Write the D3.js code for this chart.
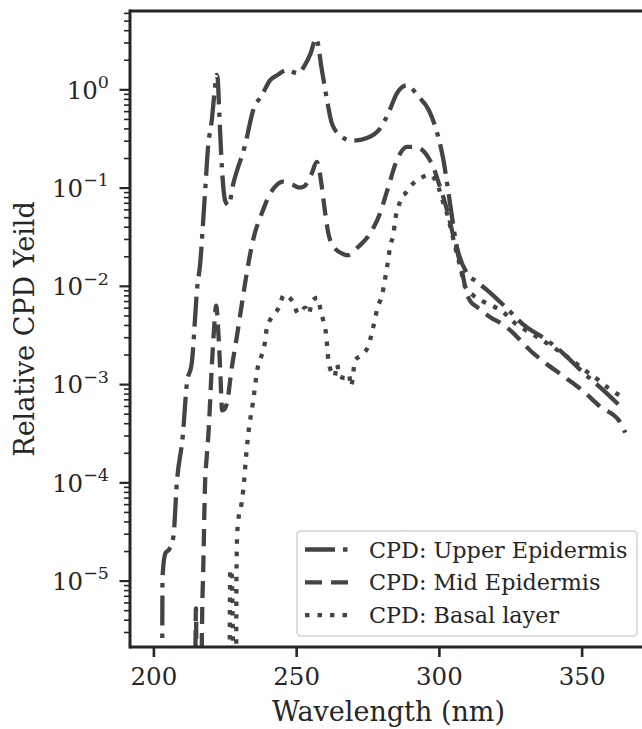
<!DOCTYPE html>
<html>
<head>
<meta charset="utf-8">
<script src="https://cdn.jsdelivr.net/npm/d3@7"></script>
<style>
  body { margin: 0; background: #fff; }
  svg { display: block; font-family: "DejaVu Serif", serif; }
</style>
</head>
<body>
<svg id="chart"></svg>
<script>
// values
const upperWl = [203.0, 203.2, 204.2, 205.6, 207.0, 208.2, 210.3, 211.7, 213.5, 215.4, 216.4, 217.3, 218.2, 219.1, 220.5, 221.5, 222.1, 222.5, 223.1, 224.0, 225.1, 226.3, 228.0, 232.1, 235.0, 238.0, 240.9, 243.5, 246.7, 250.8, 253.0, 255.0, 257.0, 259.0, 260.8, 262.5, 265.4, 269.5, 274.8, 279.4, 282.3, 285.3, 288.8, 292.9, 296.4, 298.7, 301.6, 303.4, 306.3, 309.8, 313.3, 316.8, 323.8, 329.7, 337.8, 344.0, 350.7, 357.0, 364.5];
const upperCpd = [1e-7, 1.1e-5, 1.9e-5, 2.1e-5, 2.8e-5, 9.8e-5, 3.0e-4, 1.0e-3, 1.7e-3, 1.0e-2, 1.7e-2, 4.0e-2, 0.10, 0.25, 0.50, 1.0, 1.4, 1.3, 0.55, 0.16, 0.074, 0.066, 0.11, 0.27, 0.62, 0.87, 1.24, 1.4, 1.57, 1.45, 1.75, 2.3, 3.3, 1.58, 0.78, 0.45, 0.34, 0.30, 0.32, 0.40, 0.57, 0.91, 1.1, 0.84, 0.62, 0.42, 0.19, 0.087, 0.025, 0.0135, 0.011, 0.0091, 0.0059, 0.0040, 0.0028, 0.0020, 0.0013, 0.0009, 0.00056];

const midWl = [214.5, 214.9, 215.3, 216.6, 217.0, 217.5, 218.1, 218.6, 219.3, 220.5, 221.2, 222.0, 222.6, 223.4, 224.1, 225.0, 225.7, 227.5, 229.2, 231.0, 232.7, 235.0, 238.0, 240.9, 243.0, 245.5, 247.5, 249.0, 251.0, 252.6, 255.5, 257.2, 259.0, 259.6, 261.3, 263.1, 266.6, 268.0, 271.8, 275.9, 279.4, 282.3, 285.3, 288.8, 291.0, 293.4, 296.4, 298.1, 300.0, 302.2, 305.1, 308.0, 309.8, 311.0, 313.0, 318.0, 322.6, 325.6, 329.0, 332.0, 336.6, 343.7, 350.1, 356.5, 363.5, 365.3];
const midCpd = [1e-7, 5.2e-6, 1e-7, 1e-7, 3e-6, 1.5e-5, 1.0e-4, 1.7e-4, 3.2e-4, 1.6e-3, 3.5e-3, 6.3e-3, 4.0e-3, 1.4e-3, 5.4e-4, 5.6e-4, 6.3e-4, 1.5e-3, 3.0e-3, 6.6e-3, 0.0135, 0.030, 0.055, 0.087, 0.105, 0.115, 0.110, 0.106, 0.100, 0.102, 0.14, 0.183, 0.102, 0.074, 0.034, 0.025, 0.021, 0.0205, 0.025, 0.034, 0.055, 0.102, 0.19, 0.26, 0.26, 0.25, 0.20, 0.16, 0.11, 0.069, 0.032, 0.0145, 0.0083, 0.0070, 0.0062, 0.0048, 0.0040, 0.0034, 0.0027, 0.0022, 0.0017, 0.0012, 0.00087, 0.00059, 0.00041, 0.00032];

const basalWl = [226.6, 226.9, 227.4, 228.6, 228.9, 229.1, 229.4, 230.2, 230.6, 231.8, 232.5, 233.4, 234.8, 236.6, 238.0, 239.1, 239.7, 241.5, 243.8, 245.8, 248.8, 250.8, 253.2, 254.3, 255.8, 257.5, 258.6, 259.6, 260.5, 261.3, 262.5, 263.5, 264.3, 265.2, 267.5, 268.5, 269.2, 270.7, 272.7, 275.3, 276.5, 277.7, 278.5, 280.0, 281.2, 282.3, 282.9, 284.1, 284.7, 285.8, 287.0, 288.2, 289.9, 293.4, 296.9, 298.7, 299.9, 301.6, 302.8, 304.6, 305.7, 307.5, 309.2, 312.0, 315.6, 319.1, 323.2, 326.1, 333.0, 340.7, 346.0, 352.4, 355.9, 359.4, 363.5];
const basalCpd = [1e-7, 1.3e-5, 1.2e-5, 1e-7, 1e-7, 1.2e-5, 3.2e-5, 5.0e-5, 5.5e-5, 1.05e-4, 1.9e-4, 3.4e-4, 6.3e-4, 1.5e-3, 2.0e-3, 2.7e-3, 3.7e-3, 4.8e-3, 5.9e-3, 8.1e-3, 6.9e-3, 5.2e-3, 6.0e-3, 5.2e-3, 7.1e-3, 7.6e-3, 5.6e-3, 4.3e-3, 3.2e-3, 1.75e-3, 1.3e-3, 1.2e-3, 1.6e-3, 1.2e-3, 1.15e-3, 1.25e-3, 9.5e-4, 1.75e-3, 1.95e-3, 2.45e-3, 3.3e-3, 4.7e-3, 6.0e-3, 7.9e-3, 1.2e-2, 1.9e-2, 2.5e-2, 3.4e-2, 4.7e-2, 6.3e-2, 8.1e-2, 8.7e-2, 0.102, 0.124, 0.135, 0.12, 0.10, 0.069, 0.055, 0.034, 0.025, 0.0155, 0.0098, 0.0080, 0.0069, 0.0062, 0.0052, 0.0043, 0.0032, 0.0023, 0.0018, 0.0013, 0.0011, 0.00091, 0.00076];

const seriesNames = ["CPD: Upper Epidermis", "CPD: Mid Epidermis", "CPD: Basal layer"];
const xTicks = [200, 250, 300, 350];
const yExponents = [0, -1, -2, -3, -4, -5];

const width = 642;
const height = 729;
const margin = { top: 11, right: -5, bottom: 82, left: 130 };
const ink = "#262626";
const lineColor = "#444444";
const tickFont = 24.5;

const series = [
  { name: seriesNames[0], wl: upperWl, v: upperCpd, dash: "30,8,4.5,8" },
  { name: seriesNames[1], wl: midWl, v: midCpd, dash: "17,9" },
  { name: seriesNames[2], wl: basalWl, v: basalCpd, dash: "4.5,8" }
];

const x = d3.scaleLinear()
  .domain([191.8, 372.9])
  .range([margin.left, width - margin.right]);

const y = d3.scaleLog()
  .domain([2.11e-6, 6.27])
  .range([height - margin.bottom, margin.top]);

const svg = d3.select("#chart")
  .attr("width", width)
  .attr("height", height);

svg.append("defs").append("clipPath").attr("id", "plot")
  .append("rect")
  .attr("x", margin.left).attr("y", margin.top)
  .attr("width", x.range()[1] - margin.left)
  .attr("height", y.range()[0] - margin.top);

const line = d3.line()
  .x((d) => x(d[0]))
  .y((d) => y(d[1]))
  .curve(d3.curveMonotoneX);

svg.append("g")
  .attr("clip-path", "url(#plot)")
  .selectAll("path")
  .data(series)
  .join("path")
  .attr("d", (s) => line(s.wl.map((w, i) => [w, s.v[i]])))
  .attr("fill", "none")
  .attr("stroke", lineColor)
  .attr("stroke-width", 4.3)
  .attr("stroke-dasharray", (s) => s.dash);

// minor ticks on the log axis
const minor = [];
for (let e = -6; e <= 0; e++) {
  for (let k = 2; k <= 9; k++) {
    const v = k * Math.pow(10, e);
    if (v >= y.domain()[0] && v <= y.domain()[1]) minor.push(v);
  }
}

svg.append("g")
  .attr("transform", `translate(${margin.left},0)`)
  .call(d3.axisLeft(y).tickValues(minor).tickSize(6).tickFormat(""))
  .call((g) => g.select(".domain").remove())
  .call((g) => g.selectAll("line").attr("stroke", ink).attr("stroke-width", 1.6));

const yAxis = svg.append("g")
  .attr("transform", `translate(${margin.left},0)`)
  .call(d3.axisLeft(y).tickValues(yExponents.map((e) => Math.pow(10, e))).tickSize(10.5).tickFormat(""))
  .attr("font-family", "DejaVu Serif");

yAxis.selectAll(".tick line").attr("stroke", ink).attr("stroke-width", 2.2);
yAxis.selectAll(".tick text").remove();
yAxis.selectAll(".tick")
  .append("text")
  .attr("x", -21)
  .attr("dy", "0.36em")
  .attr("text-anchor", "end")
  .attr("fill", ink)
  .attr("font-size", tickFont)
  .each(function (d) {
    const t = d3.select(this);
    const e = Math.round(Math.log10(d));
    t.append("tspan").text("10");
    t.append("tspan")
      .attr("dy", "-0.6em")
      .attr("font-size", 17.5)
      .text(e < 0 ? "\u2212" + Math.abs(e) : String(e));
  });
yAxis.select(".domain").remove();

const xAxis = svg.append("g")
  .attr("transform", `translate(0,${height - margin.bottom})`)
  .call(d3.axisBottom(x).tickValues(xTicks).tickSize(10).tickPadding(11))
  .attr("font-family", "DejaVu Serif");

xAxis.select(".domain").remove();
xAxis.selectAll(".tick line").attr("stroke", ink).attr("stroke-width", 2.6);
xAxis.selectAll(".tick text")
  .attr("fill", ink)
  .attr("font-size", tickFont);

// spines
const frame = svg.append("g").attr("fill", "none").attr("stroke", ink).attr("stroke-width", 3);
frame.append("line")
  .attr("x1", margin.left).attr("x2", x.range()[1])
  .attr("y1", margin.top).attr("y2", margin.top);
frame.append("line")
  .attr("x1", margin.left).attr("x2", x.range()[1])
  .attr("y1", y.range()[0]).attr("y2", y.range()[0]);
frame.append("line")
  .attr("x1", margin.left).attr("x2", margin.left)
  .attr("y1", margin.top - 1.5).attr("y2", y.range()[0] + 1.5);

svg.append("text")
  .attr("x", (margin.left + x.range()[1]) / 2)
  .attr("y", 721)
  .attr("text-anchor", "middle")
  .attr("fill", ink)
  .attr("font-size", 27)
  .text("Wavelength (nm)");

svg.append("text")
  .attr("transform", `translate(34,${(margin.top + y.range()[0]) / 2}) rotate(-90)`)
  .attr("text-anchor", "middle")
  .attr("fill", ink)
  .attr("font-size", 27)
  .text("Relative CPD Yeild");

// legend
const legend = svg.append("g").attr("transform", "translate(297,531)");
legend.append("rect")
  .attr("width", 340).attr("height", 105)
  .attr("rx", 4)
  .attr("fill", "#fff").attr("fill-opacity", 0.85)
  .attr("stroke", "#d4d4d4").attr("stroke-width", 1.6);

const rows = legend.selectAll(".row")
  .data(series)
  .join("g")
  .attr("class", "row")
  .attr("transform", (d, i) => `translate(0,${18.5 + i * 32.8})`);

rows.append("line")
  .attr("x1", 8).attr("x2", 53)
  .attr("stroke", lineColor)
  .attr("stroke-width", 4.3)
  .attr("stroke-dasharray", (d) => d.dash);

rows.append("text")
  .attr("x", 72)
  .attr("dy", "0.36em")
  .attr("fill", ink)
  .attr("font-size", 22.3)
  .text((d) => d.name);
</script>
</body>
</html>
